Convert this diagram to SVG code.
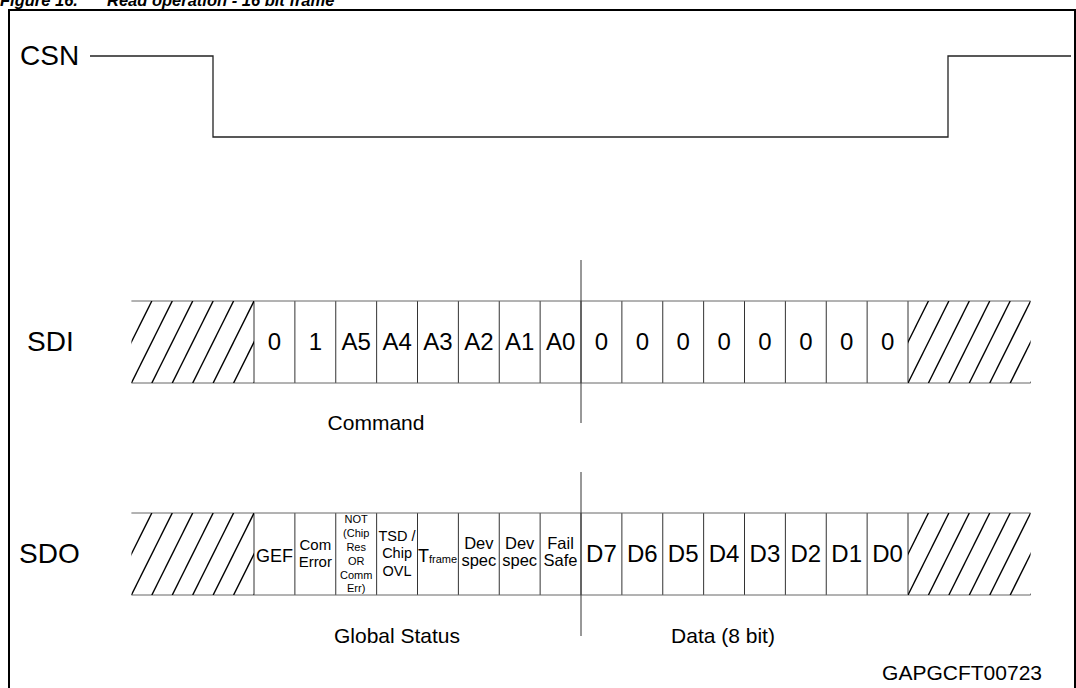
<svg xmlns="http://www.w3.org/2000/svg" xmlns:xlink="http://www.w3.org/1999/xlink" width="1076" height="688" viewBox="0 0 1076 688">
<style>
  text { font-family: "Liberation Sans", Arial, sans-serif; fill: #000; }
  .lbl { font-size: 28px; }
  .cell { font-size: 24px; text-anchor: middle; }
  .cap { font-size: 21px; text-anchor: middle; }
  .row { stroke: #666; stroke-width: 1.2; fill: none; }
  .div { stroke: #333; stroke-width: 1; fill: none; }
  .sep { stroke: #333; stroke-width: 1; }
  .hatch line { stroke: #000; stroke-width: 1.4; }
  .sig { stroke: #222; stroke-width: 1.3; fill: none; }
  .title { font-size: 16.5px; font-weight: bold; font-style: italic; }
</style>
<defs>
  <clipPath id="hc" clipPathUnits="userSpaceOnUse"><rect x="0" y="0" width="122.6" height="82"/></clipPath>
  <g id="hatch" class="hatch">
    <line x1="-20.44" y1="82" x2="20.44" y2="0"/>
    <line x1="0" y1="82" x2="40.88" y2="0"/>
    <line x1="20.44" y1="82" x2="61.32" y2="0"/>
    <line x1="40.88" y1="82" x2="81.76" y2="0"/>
    <line x1="61.32" y1="82" x2="102.2" y2="0"/>
    <line x1="81.76" y1="82" x2="122.64" y2="0"/>
    <line x1="102.2" y1="82" x2="143.08" y2="0"/>
    <line x1="122.64" y1="82" x2="163.52" y2="0"/>
  </g>
  <g id="cells">
    <line x1="254" y1="0" x2="254" y2="82"/>
    <line x1="294.88" y1="0" x2="294.88" y2="82"/>
    <line x1="335.75" y1="0" x2="335.75" y2="82"/>
    <line x1="376.63" y1="0" x2="376.63" y2="82"/>
    <line x1="417.5" y1="0" x2="417.5" y2="82"/>
    <line x1="458.38" y1="0" x2="458.38" y2="82"/>
    <line x1="499.25" y1="0" x2="499.25" y2="82"/>
    <line x1="540.13" y1="0" x2="540.13" y2="82"/>
    <line x1="581" y1="0" x2="581" y2="82"/>
    <line x1="621.88" y1="0" x2="621.88" y2="82"/>
    <line x1="662.75" y1="0" x2="662.75" y2="82"/>
    <line x1="703.63" y1="0" x2="703.63" y2="82"/>
    <line x1="744.5" y1="0" x2="744.5" y2="82"/>
    <line x1="785.38" y1="0" x2="785.38" y2="82"/>
    <line x1="826.25" y1="0" x2="826.25" y2="82"/>
    <line x1="867.13" y1="0" x2="867.13" y2="82"/>
    <line x1="908" y1="0" x2="908" y2="82"/>
    <line x1="131.4" y1="0" x2="1030.6" y2="0" stroke="#666"/>
    <line x1="131.4" y1="82" x2="1030.6" y2="82" stroke="#666"/>
  </g>
</defs>

<text class="title" x="0" y="6">Figure 16.<tspan x="107">Read operation - 16 bit frame</tspan></text>
<rect id="frame" x="9" y="10" width="1066" height="690" fill="none" stroke="#000" stroke-width="2"/>

<g id="csn">
  <text class="lbl" x="20" y="65">CSN</text>
  <polyline class="sig" points="90,56 213,56 213,137 948,137 948,56 1071,56"/>
</g>

<g id="sdi">
  <text class="lbl" x="27" y="351">SDI</text>
  <g transform="translate(0,301)" class="div"><use xlink:href="#cells"/></g>
  <g transform="translate(131.4,301)" clip-path="url(#hc)"><use xlink:href="#hatch"/></g>
  <g transform="translate(908,301)" clip-path="url(#hc)"><use xlink:href="#hatch"/></g>
  <line class="sep" x1="581" y1="260" x2="581" y2="423"/>
  <g class="cell">
    <text class="cell" x="274.44" y="350">0</text>
    <text class="cell" x="315.31" y="350">1</text>
    <text class="cell" x="356.19" y="350">A5</text>
    <text class="cell" x="397.06" y="350">A4</text>
    <text class="cell" x="437.94" y="350">A3</text>
    <text class="cell" x="478.81" y="350">A2</text>
    <text class="cell" x="519.69" y="350">A1</text>
    <text class="cell" x="560.56" y="350">A0</text>
    <text class="cell" x="601.44" y="350">0</text>
    <text class="cell" x="642.31" y="350">0</text>
    <text class="cell" x="683.19" y="350">0</text>
    <text class="cell" x="724.06" y="350">0</text>
    <text class="cell" x="764.94" y="350">0</text>
    <text class="cell" x="805.81" y="350">0</text>
    <text class="cell" x="846.69" y="350">0</text>
    <text class="cell" x="887.56" y="350">0</text>
  </g>
  <text class="cap" x="376" y="430">Command</text>
</g>

<g id="sdo">
  <text class="lbl" x="19" y="563">SDO</text>
  <g transform="translate(0,513)" class="div"><use xlink:href="#cells"/></g>
  <g transform="translate(131.4,513)" clip-path="url(#hc)"><use xlink:href="#hatch"/></g>
  <g transform="translate(908,513)" clip-path="url(#hc)"><use xlink:href="#hatch"/></g>
  <line class="sep" x1="581" y1="472" x2="581" y2="636"/>
  <text x="274.44" y="562" font-size="18" text-anchor="middle">GEF</text>
  <text x="315.31" y="550" font-size="15" text-anchor="middle">Com</text>
  <text x="315.31" y="567" font-size="15" text-anchor="middle">Error</text>
  <g font-size="11" text-anchor="middle">
    <text x="356.19" y="523">NOT</text>
    <text x="356.19" y="537">(Chip</text>
    <text x="356.19" y="551">Res</text>
    <text x="356.19" y="565">OR</text>
    <text x="356.19" y="579">Comm</text>
    <text x="356.19" y="592">Err)</text>
  </g>
  <g font-size="14.5" text-anchor="middle">
    <text x="397.06" y="541">TSD /</text>
    <text x="397.06" y="558">Chip</text>
    <text x="397.06" y="576">OVL</text>
  </g>
  <text x="418" y="562" font-size="18">T<tspan font-size="11" dy="1">frame</tspan></text>
  <g font-size="16.5" text-anchor="middle">
    <text x="478.81" y="549">Dev</text>
    <text x="478.81" y="566">spec</text>
    <text x="519.69" y="549">Dev</text>
    <text x="519.69" y="566">spec</text>
    <text x="560.56" y="549">Fail</text>
    <text x="560.56" y="566">Safe</text>
  </g>
  <text class="cell" x="601.44" y="562">D7</text>
  <text class="cell" x="642.31" y="562">D6</text>
  <text class="cell" x="683.19" y="562">D5</text>
  <text class="cell" x="724.06" y="562">D4</text>
  <text class="cell" x="764.94" y="562">D3</text>
  <text class="cell" x="805.81" y="562">D2</text>
  <text class="cell" x="846.69" y="562">D1</text>
  <text class="cell" x="887.56" y="562">D0</text>
  <text class="cap" x="397" y="643">Global Status</text>
  <text class="cap" x="723" y="643">Data (8 bit)</text>
</g>

<text x="1042" y="680" font-size="21" text-anchor="end">GAPGCFT00723</text>
</svg>
